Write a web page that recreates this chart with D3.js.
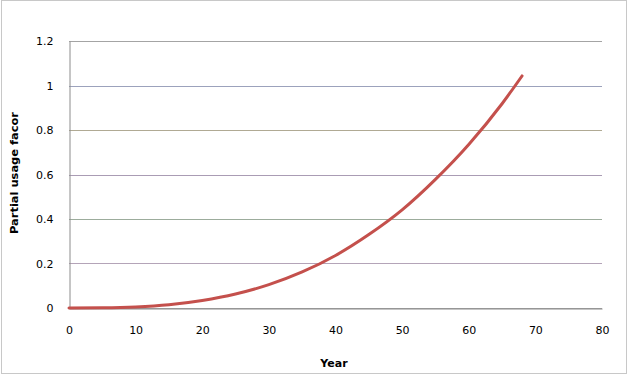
<!DOCTYPE html>
<html>
<head>
<meta charset="utf-8">
<title>Partial usage factor</title>
<script src="https://cdn.jsdelivr.net/npm/d3@7"></script>
<style>
  body{ margin:0; background:#fff; }
  .tick text{ font-family:"DejaVu Sans",Verdana,sans-serif; font-size:11px; fill:#000; }
  .title{ font-family:"DejaVu Sans",Verdana,sans-serif; font-size:11px; font-weight:bold; }
</style>
</head>
<body>
<svg id="chart" width="628" height="375"></svg>
<script>
// values
var years = [0, 5, 10, 15, 20, 25, 30, 35, 40, 45, 50, 55, 60, 65, 68];
var usage = [0, 0.001, 0.005, 0.015, 0.034, 0.063, 0.105, 0.162, 0.236, 0.33, 0.441, 0.578, 0.735, 0.918, 1.043];
var xTicks = [0, 10, 20, 30, 40, 50, 60, 70, 80];
var yTicks = [0, 0.2, 0.4, 0.6, 0.8, 1, 1.2];
var gridColors = ["#a0a0a0", "#b4a4b8", "#9cac9c", "#aa9cb4", "#b0aa94", "#9ca2bc", "#a4a4a4"];

var svg = d3.select("#chart");
var plotL = 69, plotR = 602, plotT = 41, plotB = 308;

// outer border
svg.append("rect")
   .attr("x", 1.5).attr("y", 0.5)
   .attr("width", 625).attr("height", 373)
   .attr("fill", "#fff")
   .attr("stroke", "#c8c8c8");

var x = d3.scaleLinear().domain([0, 80]).range([plotL, plotR]);
var y = d3.scaleLinear().domain([0, 1.2]).range([plotB, plotT]);

// gridlines
svg.selectAll(".grid")
   .data(yTicks)
   .enter()
   .append("line")
   .attr("class", "grid")
   .attr("x1", plotL).attr("x2", plotR)
   .attr("y1", function(d){ return Math.round(y(d)) + 0.5; })
   .attr("y2", function(d){ return Math.round(y(d)) + 0.5; })
   .attr("stroke", function(d, i){ return gridColors[i]; })
   .attr("stroke-width", 1);

// axes
var xAxis = svg.append("g")
   .attr("transform", "translate(0," + (plotB + 0.5) + ")")
   .call(d3.axisBottom(x).tickValues(xTicks).tickSize(0).tickPadding(18).tickFormat(d3.format("d")));
xAxis.select(".domain").attr("stroke", "#8c8c8c");

var yAxis = svg.append("g")
   .attr("transform", "translate(" + (plotL + 0.5) + ",0)")
   .call(d3.axisLeft(y).tickValues(yTicks).tickSize(0).tickPadding(16).tickFormat(function(d){ return d; }));
yAxis.select(".domain").attr("stroke", "#8c8c8c");

// curve
var line = d3.line()
   .x(function(d, i){ return x(years[i]); })
   .y(function(d){ return y(d); })
   .curve(d3.curveMonotoneX);

svg.append("path")
   .datum(usage)
   .attr("d", line)
   .attr("fill", "none")
   .attr("stroke", "#c4504c")
   .attr("stroke-width", 3)
   .attr("stroke-linecap", "round");

// titles
svg.append("text")
   .attr("class", "title")
   .attr("x", 334).attr("y", 367)
   .attr("text-anchor", "middle")
   .text("Year");

svg.append("text")
   .attr("class", "title")
   .attr("transform", "translate(18,173) rotate(-90)")
   .attr("text-anchor", "middle")
   .attr("textLength", 122)
   .attr("lengthAdjust", "spacingAndGlyphs")
   .text("Partial usage facor");
</script>
</body>
</html>
